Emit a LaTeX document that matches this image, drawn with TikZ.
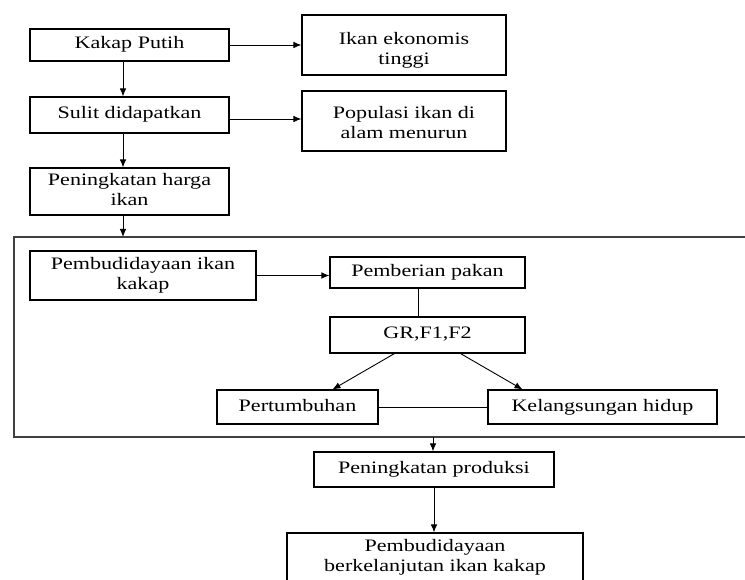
\documentclass[tikz,border=0pt]{standalone}
\usepackage{fontspec}
\usepackage{graphicx}
\setmainfont{Liberation Serif}
\usetikzlibrary{arrows.meta}

% teks dilebarkan seperti pada gambar asli
\newcommand{\wtxt}[1]{\scalebox{1.26}[1]{\begin{tabular}{@{}c@{}}#1\end{tabular}}}

\begin{document}
\begin{tikzpicture}[x=1pt,y=-1pt,->,>={Latex[length=8pt,width=6.5pt]},shorten >=0pt,line width=0.9pt, box node/.style={rectangle,draw,line width=1.1pt,inner xsep=2pt,inner ysep=2pt,font=\fontsize{17.5}{20}\selectfont}, frame line/.style={-,draw=black!75,line width=1.5pt}]

  \useasboundingbox (0,0) rectangle (745,580);

  \node[box node,minimum width=199pt,minimum height=32pt] (kakap) at (129.5,45) {\wtxt{Kakap Putih}};
  \node[box node,minimum width=204pt,minimum height=60pt] (ekonomis) at (404,45) {\wtxt{Ikan ekonomis\\tinggi\\[-12pt]}};
  \node[box node,minimum width=199pt,minimum height=36pt] (sulit) at (129.5,115) {\wtxt{Sulit didapatkan}};
  \node[box node,minimum width=204pt,minimum height=60pt] (populasi) at (404,121) {\wtxt{Populasi ikan di\\alam menurun\\[-8pt]}};
  \node[box node,minimum width=199pt,minimum height=47pt] (harga) at (129.5,191.5) {\wtxt{Peningkatan harga\\ikan}};

  % kotak besar
  \coordinate (fin) at (123,237);
  \coordinate (fout) at (433,437);
  \draw[frame line] (745,237) -- (14,237) -- (14,437) -- (745,437);

  \node[box node,minimum width=226pt,minimum height=49pt] (budidaya) at (143,275.5) {\wtxt{Pembudidayaan ikan\\kakap}};
  \node[box node,minimum width=195pt,minimum height=31pt] (pakan) at (427.5,272.5) {\wtxt{Pemberian pakan}};
  \node[box node,minimum width=195pt,minimum height=36pt] (gr) at (427.5,335) {\wtxt{GR,F1,F2}};
  \node[box node,minimum width=161pt,minimum height=34pt] (tumbuh) at (297.5,407) {\wtxt{Pertumbuhan}};
  \node[box node,minimum width=229pt,minimum height=34pt] (hidup) at (602.5,407) {\wtxt{Kelangsungan hidup}};

  \node[box node,minimum width=240pt,minimum height=35pt] (produksi) at (434,469.5) {\wtxt{Peningkatan produksi}};
  \node[box node,minimum width=296pt,minimum height=49pt] (lanjut) at (435,557.5) {\wtxt{Pembudidayaan\\berkelanjutan ikan kakap}};

  \path[->]
       (kakap.east) edge (ekonomis.west)
       ([yshift=-4pt]sulit.east) edge ([yshift=-4pt]sulit.east -| populasi.west)
       ([xshift=-6.5pt]kakap.south) edge ([xshift=-6.5pt]sulit.north)
       ([xshift=-6.5pt]sulit.south) edge ([xshift=-6.5pt]harga.north)
       ([xshift=-6.5pt]harga.south) edge (fin)
       (budidaya.east) edge (budidaya.east -| pakan.west)
       ([xshift=-33pt]gr.south) edge ([xshift=35pt]tumbuh.north)
       ([xshift=33pt]gr.south) edge ([xshift=-80pt]hidup.north)
       (fout) edge (fout |- produksi.north)
       (produksi.south) edge (produksi.south |- lanjut.north);

  \path[-]
       ([xshift=-9.5pt]pakan.south) edge ([xshift=-9.5pt]gr.north)
       (tumbuh.east) edge (hidup.west);
\end{tikzpicture}
\end{document}
